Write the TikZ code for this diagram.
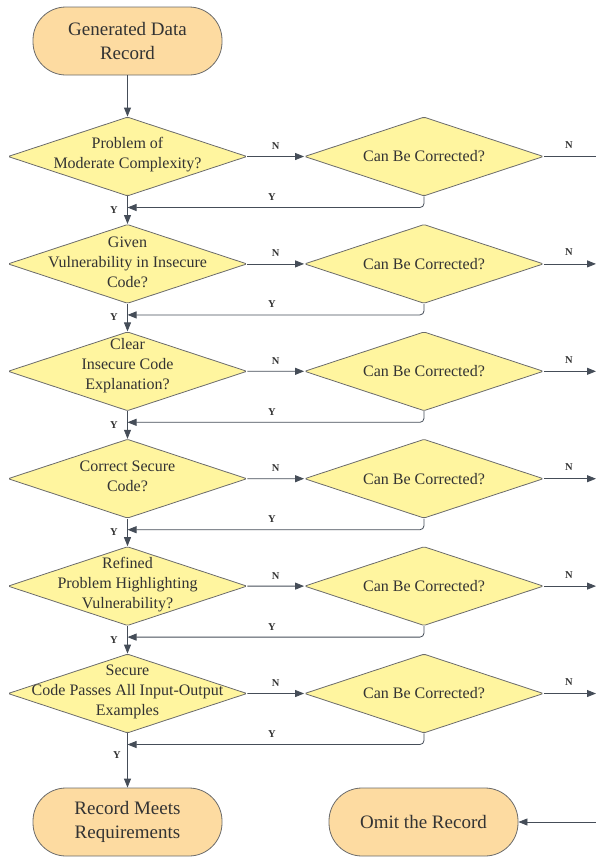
\documentclass[tikz,border=0pt]{standalone}
\usepackage{fontspec}
\setmainfont{Liberation Serif}
\usetikzlibrary{shapes.geometric,arrows.meta,calc}
\definecolor{termfill}{HTML}{FDDBA1}
\definecolor{diafill}{HTML}{FFF59F}
\definecolor{edgec}{HTML}{6B6B6B}
\definecolor{arrowc}{HTML}{454D58}
\definecolor{txtc}{HTML}{333333}
\begin{document}
\begin{tikzpicture}[x=1pt,y=-1pt,
 term/.style={rectangle, rounded corners=33pt, draw=edgec, fill=termfill, line width=0.8pt, minimum width=189pt, minimum height=68pt, inner sep=0pt, align=center, text=txtc, font=\fontsize{19}{23.5}\selectfont},
 dia/.style={diamond, draw=edgec, fill=diafill, line width=0.8pt, minimum width=239pt, minimum height=79pt, inner sep=0pt, rounded corners=1.5pt},
 dtext/.style={align=center, text=txtc, font=\fontsize{16}{20}\selectfont, inner sep=0pt},
 arr/.style={draw=arrowc, line width=0.8pt, -{Triangle[length=9pt,width=7pt]}},
 ln/.style={draw=arrowc, line width=0.8pt},
 lab/.style={text=txtc, font=\bfseries\fontsize{10.5}{12}\selectfont, inner sep=0pt}]
\useasboundingbox (0,0) rectangle (596,857);

% terminals
\node[term] (start) at (127.5,41) {Generated Data\\Record};
\node[term] (meets) at (127.5,822) {Record Meets\\Requirements};
\node[term] (omit) at (423.5,822) {Omit the Record};

% decision diamonds (left column)
\node[dia] (d1) at (127.5,156.5) {};
\node[dia] (d2) at (127.5,263.9) {};
\node[dia] (d3) at (127.5,371.3) {};
\node[dia] (d4) at (127.5,478.7) {};
\node[dia] (d5) at (127.5,586.1) {};
\node[dia] (d6) at (127.5,693.5) {};
\node[dtext] (t1) at ($(d1)+(0,-1.5)$) {Problem of\\Moderate Complexity?};
\node[dtext] (t2) at ($(d2)+(0,-1.5)$) {Given\\Vulnerability in Insecure\\Code?};
\node[dtext] (t3) at ($(d3)+(0,-6)$) {Clear\\Insecure Code\\Explanation?};
\node[dtext] (t4) at ($(d4)+(0,-2)$) {Correct Secure\\Code?};
\node[dtext] (t5) at ($(d5)+(0,-2)$) {Refined\\Problem Highlighting\\Vulnerability?};
\node[dtext] (t6) at ($(d6)+(0,-2)$) {Secure\\Code Passes All Input-Output\\Examples};

% "Can Be Corrected?" diamonds (right column)
\foreach \i in {1,...,6}{
  \node[dia] (c\i) at (424,{156.5+107.4*(\i-1)}) {};
  \node[dtext] (ct\i) at (c\i) {Can Be Corrected?};
  \coordinate (y\i) at (127.5,{156.5+107.4*(\i-1)+51});
  \coordinate (r\i) at (596,{156.5+107.4*(\i-1)});
}
\coordinate (re) at (596,822);

% main flow
\draw[arr] (start) -- (d1);
\draw[arr] (d1) -- (d2);
\draw[arr] (d2) -- (d3);
\draw[arr] (d3) -- (d4);
\draw[arr] (d4) -- (d5);
\draw[arr] (d5) -- (d6);
\draw[arr] (d6) -- (meets);

\foreach \i in {1,...,6}{
  \draw[arr] (d\i.east) -- (c\i.west);
  \node[lab] at ($(d\i.east)!0.5!(c\i.west)+(0,-10.5)$) {N};
  \draw[arr, rounded corners=4pt] (c\i.south) |- (y\i);
  \node[lab] at ($(y\i)+(144.5,-10.5)$) {Y};
  \node[lab] at ($(r\i)+(-27,-11.5)$) {N};
}
\foreach \i in {1,...,5}{
  \node[lab] at ($(y\i)+(-13.5,2.5)$) {Y};
}
\node[lab] at ($(y6)+(-10.5,11)$) {Y};

% exits to the right
\draw[ln] (c1.east) -- (r1);
\foreach \i in {2,...,6}{
  \draw[arr] (c\i.east) -- (r\i);
}
\draw[arr] (re) -- (omit.east);
\end{tikzpicture}
\end{document}
